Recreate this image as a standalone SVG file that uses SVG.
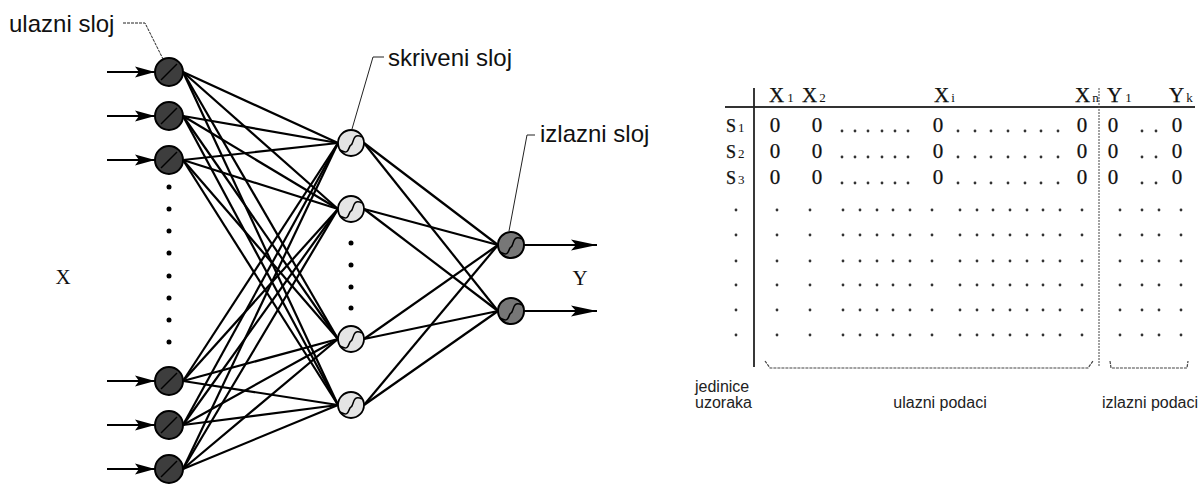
<svg xmlns="http://www.w3.org/2000/svg" width="1203" height="485" viewBox="0 0 1203 485">
<style>
.lbl{font-family:"Liberation Sans",Arial,sans-serif;font-size:24px;fill:#111}
.sm{font-family:"Liberation Sans",Arial,sans-serif;font-size:16px;fill:#222}
.ser{font-family:"Liberation Serif","Times New Roman",serif;fill:#111}
.tb{stroke:#111;stroke-width:0.25}
.tb tspan{stroke:none}
.conn line{stroke:#000;stroke-width:2.2}
.lead{stroke:#222;stroke-width:1;fill:none}
.arr{stroke:#000;stroke-width:3.4}
.inp{fill:#3d3d3d;stroke:#000;stroke-width:2}
.hid{fill:#e4e4e4;stroke:#000;stroke-width:1.8}
.out{fill:#777;stroke:#000;stroke-width:2}
.curve{fill:none;stroke:#000;stroke-width:1.5}
.dot{fill:#000}
.td{fill:#333}
</style>
<defs>
<marker id="ah" markerUnits="userSpaceOnUse" markerWidth="22" markerHeight="12" refX="20" refY="6" orient="auto">
<path d="M0,0.5 L20,6 L0,11.5 L4,6 Z" fill="#000"/>
</marker>
<marker id="ah2" markerUnits="userSpaceOnUse" markerWidth="28" markerHeight="12" refX="26" refY="6" orient="auto">
<path d="M0,0.5 L26,6 L0,11.5 L5,6 Z" fill="#000"/>
</marker>
</defs>

<g id="connectors" class="conn">
<line x1="183" y1="72" x2="338" y2="143"/><line x1="183" y1="72" x2="338" y2="209"/><line x1="183" y1="72" x2="338" y2="339"/><line x1="183" y1="72" x2="338" y2="405"/>
<line x1="183" y1="116" x2="338" y2="143"/><line x1="183" y1="116" x2="338" y2="209"/><line x1="183" y1="116" x2="338" y2="339"/><line x1="183" y1="116" x2="338" y2="405"/>
<line x1="183" y1="160" x2="338" y2="143"/><line x1="183" y1="160" x2="338" y2="209"/><line x1="183" y1="160" x2="338" y2="339"/><line x1="183" y1="160" x2="338" y2="405"/>
<line x1="183" y1="381" x2="338" y2="143"/><line x1="183" y1="381" x2="338" y2="209"/><line x1="183" y1="381" x2="338" y2="339"/><line x1="183" y1="381" x2="338" y2="405"/>
<line x1="183" y1="425" x2="338" y2="143"/><line x1="183" y1="425" x2="338" y2="209"/><line x1="183" y1="425" x2="338" y2="339"/><line x1="183" y1="425" x2="338" y2="405"/>
<line x1="183" y1="469" x2="338" y2="143"/><line x1="183" y1="469" x2="338" y2="209"/><line x1="183" y1="469" x2="338" y2="339"/><line x1="183" y1="469" x2="338" y2="405"/>
<line x1="364" y1="143" x2="498" y2="245"/><line x1="364" y1="143" x2="498" y2="311"/>
<line x1="364" y1="209" x2="498" y2="245"/><line x1="364" y1="209" x2="498" y2="311"/>
<line x1="364" y1="339" x2="498" y2="245"/><line x1="364" y1="339" x2="498" y2="311"/>
<line x1="364" y1="405" x2="498" y2="245"/><line x1="364" y1="405" x2="498" y2="311"/>
<line class="arr" x1="107" y1="72" x2="155" y2="72" marker-end="url(#ah)"/>
<line class="arr" x1="107" y1="116" x2="155" y2="116" marker-end="url(#ah)"/>
<line class="arr" x1="107" y1="160" x2="155" y2="160" marker-end="url(#ah)"/>
<line class="arr" x1="107" y1="381" x2="155" y2="381" marker-end="url(#ah)"/>
<line class="arr" x1="107" y1="425" x2="155" y2="425" marker-end="url(#ah)"/>
<line class="arr" x1="107" y1="469" x2="155" y2="469" marker-end="url(#ah)"/>
<line class="arr" x1="524" y1="245" x2="597" y2="245" marker-end="url(#ah2)"/>
<line class="arr" x1="524" y1="311" x2="597" y2="311" marker-end="url(#ah2)"/>
</g>

<g id="input-layer">
<circle class="inp" cx="169" cy="72" r="14"/><line class="curve" x1="161" y1="80" x2="177" y2="64"/>
<circle class="inp" cx="169" cy="116" r="14"/><line class="curve" x1="161" y1="124" x2="177" y2="108"/>
<circle class="inp" cx="169" cy="160" r="14"/><line class="curve" x1="161" y1="168" x2="177" y2="152"/>
<circle class="inp" cx="169" cy="381" r="14"/><line class="curve" x1="161" y1="389" x2="177" y2="373"/>
<circle class="inp" cx="169" cy="425" r="14"/><line class="curve" x1="161" y1="433" x2="177" y2="417"/>
<circle class="inp" cx="169" cy="469" r="14"/><line class="curve" x1="161" y1="477" x2="177" y2="461"/>
<circle class="dot" cx="169" cy="187" r="2.5"/><circle class="dot" cx="169" cy="209" r="2.5"/><circle class="dot" cx="169" cy="231" r="2.5"/><circle class="dot" cx="169" cy="253" r="2.5"/>
<circle class="dot" cx="169" cy="276" r="2.5"/><circle class="dot" cx="169" cy="298" r="2.5"/><circle class="dot" cx="169" cy="320" r="2.5"/><circle class="dot" cx="169" cy="342" r="2.5"/>
</g>

<g id="hidden-layer">
<circle class="hid" cx="351" cy="143" r="13"/><path class="curve" d="M362,137 C352,132 354,144 351,145 C348,146 350,156 340,150"/>
<circle class="hid" cx="351" cy="209" r="13"/><path class="curve" d="M362,203 C352,198 354,210 351,211 C348,212 350,222 340,216"/>
<circle class="hid" cx="351" cy="339" r="13"/><path class="curve" d="M362,333 C352,328 354,340 351,341 C348,342 350,352 340,346"/>
<circle class="hid" cx="351" cy="405" r="13"/><path class="curve" d="M362,399 C352,394 354,406 351,407 C348,408 350,418 340,412"/>
<circle class="dot" cx="351" cy="243" r="2.5"/><circle class="dot" cx="351" cy="265" r="2.5"/><circle class="dot" cx="351" cy="287" r="2.5"/><circle class="dot" cx="351" cy="308" r="2.5"/>
</g>

<g id="output-layer">
<circle class="out" cx="511" cy="245" r="13"/><path class="curve" d="M522,239 C512,234 514,246 511,247 C508,248 510,258 500,252"/>
<circle class="out" cx="511" cy="311" r="13"/><path class="curve" d="M522,305 C512,300 514,312 511,313 C508,314 510,324 500,318"/>
</g>

<g id="labels">
<text class="lbl" x="9" y="32">ulazni sloj</text>
<path class="lead" d="M123,23 L145,23 L163,59" stroke-dasharray="3,1"/>
<text class="lbl" x="388" y="66">skriveni sloj</text>
<path class="lead" d="M384,57 L373,57 L352,129"/>
<text class="lbl" x="540" y="142">izlazni sloj</text>
<path class="lead" d="M535,135 L527,135 L509,231"/>
<text class="ser" x="63" y="284" font-size="21" text-anchor="middle">X</text>
<text class="ser" x="580" y="285" font-size="21" text-anchor="middle">Y</text>
</g>

<g id="table">
<line x1="725" y1="107" x2="1195" y2="107" stroke="#333" stroke-width="1.8"/>
<line x1="754" y1="88" x2="754" y2="367" stroke="#222" stroke-width="1.8"/>
<line x1="1099" y1="88" x2="1099" y2="367" stroke="#444" stroke-width="1" stroke-dasharray="2,1"/>
<g class="ser tb" font-size="21">
<text x="769" y="102">X<tspan font-size="13" dx="3">1</tspan></text>
<text x="802" y="102">X<tspan font-size="13" dx="2">2</tspan></text>
<text x="934" y="102">X<tspan font-size="13" dx="2">i</tspan></text>
<text x="1075" y="102">X<tspan font-size="13" dx="2">n</tspan></text>
<text x="1107" y="102">Y<tspan font-size="13" dx="3">1</tspan></text>
<text x="1169" y="102">Y<tspan font-size="13" dx="2">k</tspan></text>
<text x="726" y="132" font-size="18">S<tspan font-size="13" dx="2">1</tspan></text>
<text x="726" y="158" font-size="18">S<tspan font-size="13" dx="2">2</tspan></text>
<text x="726" y="184" font-size="18">S<tspan font-size="13" dx="2">3</tspan></text>
</g>
<g class="ser tb" font-size="21" text-anchor="middle">
<text x="775" y="132">0</text><text x="817" y="132">0</text><text x="938" y="132">0</text><text x="1082" y="132">0</text><text x="1113" y="132">0</text><text x="1177" y="132">0</text>
<text x="775" y="158">0</text><text x="817" y="158">0</text><text x="938" y="158">0</text><text x="1082" y="158">0</text><text x="1113" y="158">0</text><text x="1177" y="158">0</text>
<text x="775" y="184">0</text><text x="817" y="184">0</text><text x="938" y="184">0</text><text x="1082" y="184">0</text><text x="1113" y="184">0</text><text x="1177" y="184">0</text>
</g>
<g class="td">
<g id="zr1">
<circle cx="842" cy="131" r="1.4"/><circle cx="855" cy="131" r="1.4"/><circle cx="868" cy="131" r="1.4"/><circle cx="882" cy="131" r="1.4"/><circle cx="895" cy="131" r="1.4"/><circle cx="908" cy="131" r="1.4"/>
<circle cx="958" cy="131" r="1.4"/><circle cx="975" cy="131" r="1.4"/><circle cx="991" cy="131" r="1.4"/><circle cx="1008" cy="131" r="1.4"/><circle cx="1025" cy="131" r="1.4"/><circle cx="1041" cy="131" r="1.4"/><circle cx="1058" cy="131" r="1.4"/>
<circle cx="1142" cy="131" r="1.4"/><circle cx="1156" cy="131" r="1.4"/>
</g>
<use href="#zr1" y="26"/>
<use href="#zr1" y="52"/>
<g id="dr1">
<circle cx="736" cy="210" r="1.4"/>
<circle cx="777" cy="210" r="1.4"/><circle cx="810" cy="210" r="1.4"/><circle cx="843" cy="210" r="1.4"/><circle cx="860" cy="210" r="1.4"/><circle cx="877" cy="210" r="1.4"/><circle cx="893" cy="210" r="1.4"/><circle cx="910" cy="210" r="1.4"/><circle cx="932" cy="210" r="1.4"/>
<circle cx="960" cy="210" r="1.4"/><circle cx="977" cy="210" r="1.4"/><circle cx="993" cy="210" r="1.4"/><circle cx="1010" cy="210" r="1.4"/><circle cx="1027" cy="210" r="1.4"/><circle cx="1043" cy="210" r="1.4"/><circle cx="1060" cy="210" r="1.4"/><circle cx="1082" cy="210" r="1.4"/>
<circle cx="1120" cy="210" r="1.4"/><circle cx="1142" cy="210" r="1.4"/><circle cx="1159" cy="210" r="1.4"/><circle cx="1181" cy="210" r="1.4"/>
</g>
<use href="#dr1" y="25"/>
<use href="#dr1" y="51"/>
<use href="#dr1" y="75"/>
<use href="#dr1" y="100"/>
<use href="#dr1" y="125"/>
</g>
<path d="M765,361 L770,368 L1088,368 L1093,361" fill="none" stroke="#444" stroke-width="1.2" stroke-dasharray="3,1"/>
<path d="M1110,361 L1111,368 L1187,368 L1188,361" fill="none" stroke="#444" stroke-width="1.2" stroke-dasharray="3,1"/>
<text class="sm" x="695" y="392">jedinice</text>
<text class="sm" x="695" y="408">uzoraka</text>
<text class="sm" x="940" y="408" text-anchor="middle">ulazni podaci</text>
<text class="sm" x="1150" y="408" text-anchor="middle">izlazni podaci</text>
</g>
</svg>
